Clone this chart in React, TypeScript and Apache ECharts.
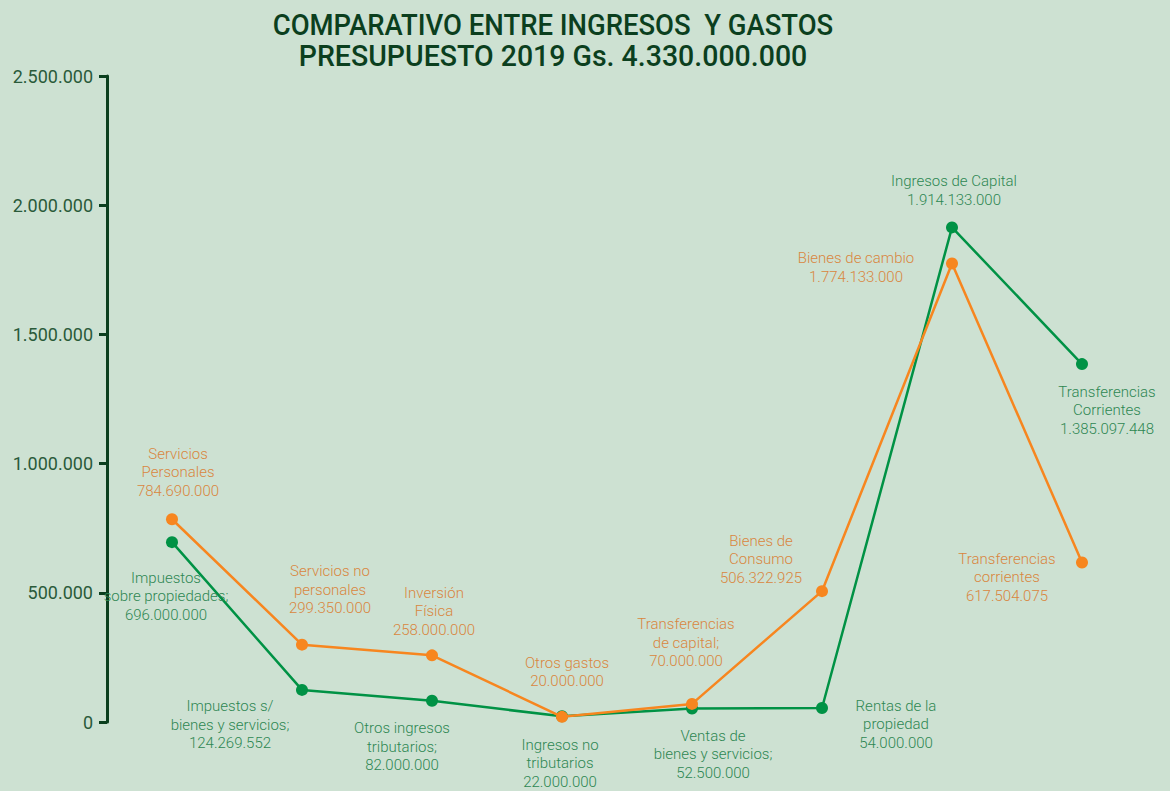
import React, { useEffect, useRef } from "react";
import * as echarts from "echarts";

const categories = ["1", "2", "3", "4", "5", "6", "7", "8"];

// values in thousands of Gs.
const ingresosValues = [696000, 124269.552, 82000, 22000, 52500, 54000, 1914133, 1385097.448];
const ingresosNames = [
  "Impuestos\nsobre propiedades;",
  "Impuestos s/\nbienes y servicios;",
  "Otros ingresos\ntributarios;",
  "Ingresos no\ntributarios",
  "Ventas de\nbienes y servicios;",
  "Rentas de la\npropiedad",
  "Ingresos de Capital",
  "Transferencias\nCorrientes",
];

const gastosValues = [784690, 299350, 258000, 20000, 70000, 506322.925, 1774133, 617504.075];
const gastosNames = [
  "Servicios\nPersonales",
  "Servicios no\npersonales",
  "Inversión\nFísica",
  "Otros gastos",
  "Transferencias\nde capital;",
  "Bienes de\nConsumo",
  "Bienes de cambio",
  "Transferencias\ncorrientes",
];

const yTicks = [0, 500000, 1000000, 1500000, 2000000, 2500000];

const ingresosOffsets = [
  [-6, 54], [-72, 35], [-30, 46], [-2, 47], [21, 46], [74, 16], [2, -37], [25, 46],
];
const gastosOffsets = [
  [6, -47], [28, -55], [2, -44], [5, -45], [-6, -61], [-61, -32], [-96, 4], [-75, 15],
];

const fmt = (n: number) => {
  const s = Math.round(n).toString();
  return s.replace(/\B(?=(\d{3})+(?!\d))/g, ".");
};

export default function App() {
  const ref = useRef<HTMLDivElement>(null);
  useEffect(() => {
    document.body.style.margin = "0";
    const chart = echarts.init(ref.current!, undefined, { renderer: "svg" });
    const labelFont = "Roboto, sans-serif";
    const mkData = (vals: number[], names: string[], offs: number[][], color: string) =>
      vals.map((v, i) => ({
        value: v,
        label: {
          show: true,
          position: "inside",
          offset: offs[i],
          formatter: names[i] + "\n" + fmt(v * 1000),
          color,
          fontSize: 15,
          lineHeight: 18.5,
          fontFamily: labelFont,
          fontWeight: 300,
          align: "center",
        },
      }));
    chart.setOption({
      animation: false,
      backgroundColor: "#cde1d2",
      graphic: [
        {
          type: "text",
          x: 553,
          y: 25,
          scaleX: 0.915,
          style: {
            text: "COMPARATIVO ENTRE INGRESOS  Y GASTOS",
            fill: "#0b3f1e",
            font: "500 30px Roboto, sans-serif",
            textAlign: "center",
            textVerticalAlign: "middle",
          },
        },
        {
          type: "text",
          x: 553,
          y: 56,
          scaleX: 0.95,
          style: {
            text: "PRESUPUESTO 2019 Gs. 4.330.000.000",
            fill: "#0b3f1e",
            font: "500 30px Roboto, sans-serif",
            textAlign: "center",
            textVerticalAlign: "middle",
          },
        },
      ],
      grid: { left: 107, right: 23, top: 76, bottom: 69, containLabel: false },
      xAxis: {
        type: "category",
        data: categories,
        boundaryGap: true,
        axisLine: { show: false },
        axisTick: { show: false },
        axisLabel: { show: false },
        splitLine: { show: false },
      },
      yAxis: {
        type: "value",
        min: yTicks[0],
        max: yTicks[yTicks.length - 1],
        interval: yTicks[1] - yTicks[0],
        axisLine: { show: true, lineStyle: { color: "#0b3f1e", width: 3 } },
        axisTick: { show: true, length: 8, lineStyle: { color: "#0b3f1e", width: 3 } },
        axisLabel: {
          color: "#2a5a3a",
          fontSize: 18,
          fontFamily: "Roboto, sans-serif",
          margin: 14,
          formatter: (v: number) => fmt(v),
        },
        splitLine: { show: false },
      },
      series: [
        {
          type: "line",
          name: "Ingresos",
          data: mkData(ingresosValues, ingresosNames, ingresosOffsets, "#2e8752"),
          symbol: "circle",
          symbolSize: 12,
          itemStyle: { color: "#009245" },
          lineStyle: { color: "#009245", width: 2.5 },
          z: 2,
        },
        {
          type: "line",
          name: "Gastos",
          data: mkData(gastosValues, gastosNames, gastosOffsets, "#d9863e"),
          symbol: "circle",
          symbolSize: 12,
          itemStyle: { color: "#f7861f" },
          lineStyle: { color: "#f7861f", width: 2.5 },
          z: 3,
        },
      ],
    });
    return () => chart.dispose();
  }, []);
  return (
    <div
      ref={ref}
      style={{ width: 1170, height: 791, background: "#cde1d2" }}
    />
  );
}
